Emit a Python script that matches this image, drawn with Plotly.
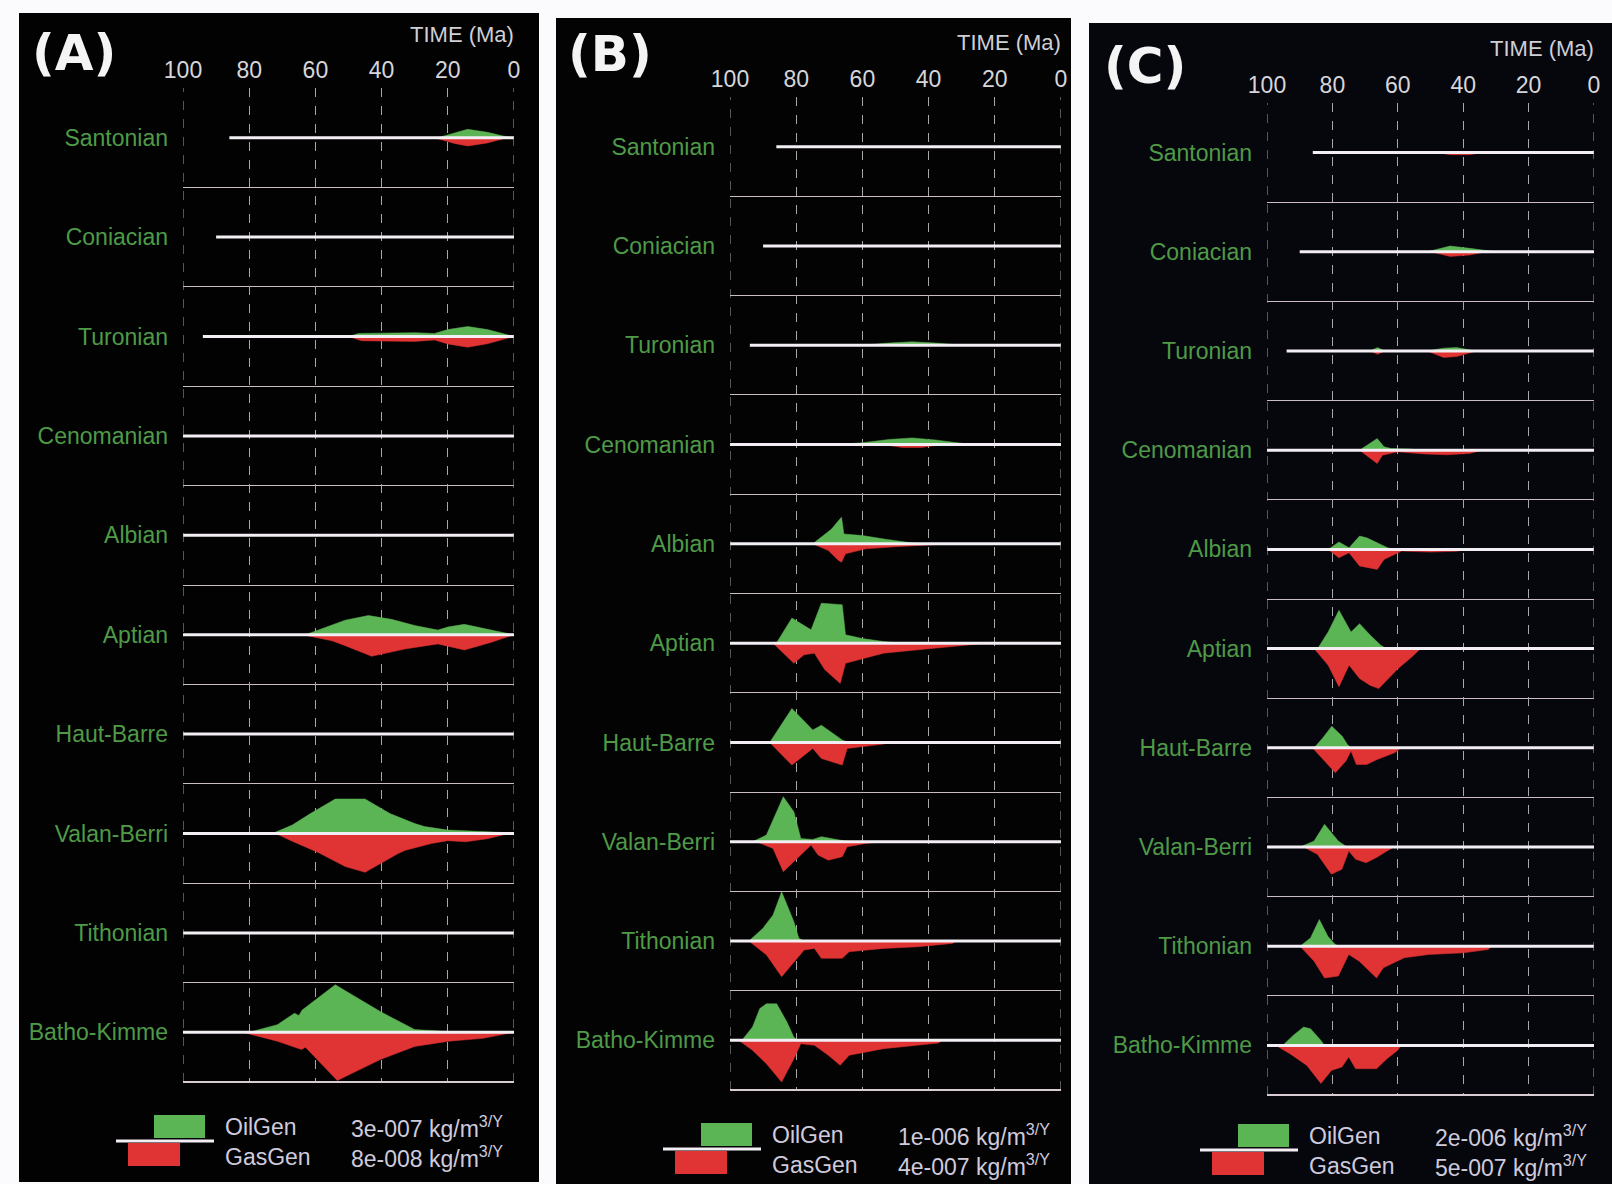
import plotly.graph_objects as go

# ---------------------------------------------------------------------------
# Source-rock layers (top to bottom) and time axis
# ---------------------------------------------------------------------------
LAYERS = ["Santonian", "Coniacian", "Turonian", "Cenomanian", "Albian", "Aptian",
          "Haut-Barre", "Valan-Berri", "Tithonian", "Batho-Kimme"]
LAYER_AGE_MA = [86, 90, 94, 100.5, 113, 125, 133, 145, 152, 168]
TIME_TICKS = [100, 80, 60, 40, 20, 0]

PANEL_NAMES = ["(A)", "(B)", "(C)"]

# legend reference rates (kg/m3/y) for each panel
OIL_REF = [3e-7, 1e-6, 2e-6]
GAS_REF = [8e-8, 4e-7, 5e-7]
# units in which the rate series below are written
OIL_UNIT = [1e-7, 1e-6, 1e-6]
GAS_UNIT = [1e-8, 1e-7, 1e-7]

# ---------------------------------------------------------------------------
# Generation rates: layer -> (time Ma, rate in panel unit)
# ---------------------------------------------------------------------------
OIL_A = {
    "Santonian": ([23, 18, 14, 8, 3, 0], [0, 0.6, 1.1, 0.7, 0.2, 0]),
    "Turonian": ([50, 47, 30, 24, 20, 14, 8, 2, 0], [0, 0.4, 0.5, 0.4, 0.9, 1.3, 0.9, 0.3, 0]),
    "Aptian": ([63, 57, 51, 44, 37, 30, 23, 20, 15, 9, 0],
               [0, 0.9, 1.9, 2.5, 2.0, 1.2, 0.6, 1.0, 1.35, 0.8, 0]),
    "Valan-Berri": ([73, 70, 67, 61.5, 54, 45, 37.5, 30, 27, 20, 10, 4, 0],
                    [0, 0.6, 1.1, 2.6, 4.5, 4.5, 2.6, 1.3, 0.9, 0.45, 0.3, 0.15, 0]),
    "Batho-Kimme": ([80, 71.5, 66.3, 65, 64, 54, 40.4, 30, 20, 10, 0],
                    [0, 1.0, 2.5, 2.2, 2.9, 6.2, 2.7, 0.35, 0.1, 0.05, 0]),
}
GAS_A = {
    "Santonian": ([24, 18, 14, 8, 3, 0], [0, 2.0, 2.9, 1.8, 0.3, 0]),
    "Turonian": ([50, 46, 30, 24, 20, 14, 8, 3, 0], [0, 1.5, 1.7, 1.2, 2.6, 3.7, 2.5, 0.8, 0]),
    "Aptian": ([64, 55, 51, 43, 33, 23, 15, 7, 0], [0, 2.1, 3.8, 7.5, 5.0, 3.2, 5.3, 2.7, 0]),
    "Valan-Berri": ([72, 67, 59, 51, 45, 40.5, 35, 33, 25, 20, 14.6, 8, 3, 0],
                    [0, 2.7, 6.7, 11.5, 13.5, 10.5, 7.0, 5.9, 3.5, 2.5, 2.9, 1.8, 0.4, 0]),
    "Batho-Kimme": ([82, 71.5, 64.2, 63, 53.4, 40.4, 30, 19.7, 9.3, 0],
                    [0, 3.1, 6.0, 5.2, 16.8, 9.5, 4.9, 3.1, 2.1, 0]),
}

OIL_B = {
    "Turonian": ([60, 52, 45, 38, 30], [0, 0.1, 0.15, 0.1, 0]),
    "Cenomanian": ([67, 60, 52, 45, 38, 30, 27], [0, 0.08, 0.22, 0.29, 0.2, 0.05, 0]),
    "Albian": ([75, 72.4, 69.3, 67.2, 66.3, 65.6, 60, 53, 47, 43],
               [0, 0.29, 0.65, 1.01, 1.16, 0.43, 0.36, 0.2, 0.07, 0]),
    "Aptian": ([86, 81.3, 75.5, 72.4, 66.1, 65.1, 60, 53.6, 48.4],
               [0, 1.09, 0.58, 1.74, 1.67, 0.36, 0.2, 0.07, 0]),
    "Haut-Barre": ([88, 81.3, 75, 72.4, 66, 64], [0, 1.48, 0.54, 0.75, 0.1, 0]),
    "Valan-Berri": ([93.2, 89, 83.9, 80.7, 78.6, 75, 72.4, 66, 64],
                    [0, 0.29, 1.96, 1.30, 0.14, 0.1, 0.22, 0.07, 0]),
    "Tithonian": ([94.3, 90.1, 87, 84.4, 80.7, 79.2, 77.6], [0, 0.55, 1.13, 2.14, 0.84, 0.12, 0]),
    "Batho-Kimme": ([96.4, 93.2, 91, 89, 85.9, 82.8, 80.7, 79.7],
                    [0, 0.58, 1.38, 1.59, 1.59, 0.8, 0.14, 0]),
}
GAS_B = {
    "Turonian": ([55, 45, 35], [0, 0.1, 0]),
    "Cenomanian": ([54, 48, 42, 36], [0, 0.5, 0.5, 0]),
    "Albian": ([75, 70.3, 67.2, 66.3, 65.1, 59, 50, 40, 33], [0, 1.16, 2.9, 3.2, 1.74, 0.87, 0.5, 0.25, 0]),
    "Aptian": ([87, 80.7, 77.6, 74.5, 71.4, 66.7, 65.1, 53.6, 43.2, 27.6, 22.4],
               [0, 3.5, 2.0, 1.74, 4.6, 7.0, 3.5, 1.74, 1.16, 0.3, 0]),
    "Haut-Barre": ([88, 81.3, 75, 72.4, 66.1, 64.6, 53.6, 51.5], [0, 3.94, 1.04, 2.78, 3.94, 1.04, 0.29, 0]),
    "Valan-Berri": ([92, 87, 83.9, 80.7, 75.5, 73.4, 70.3, 66.1, 64.6, 58.9, 53.6],
                    [0, 1.16, 5.2, 3.5, 0.58, 2.3, 3.2, 2.6, 0.87, 0.29, 0]),
    "Tithonian": ([94.3, 89, 84.4, 77.6, 74.5, 72.4, 66.1, 64, 53.6, 43.2, 32.8, 31.7],
                  [0, 2.4, 6.2, 1.57, 1.28, 3.0, 3.0, 1.86, 1.28, 0.99, 0.41, 0]),
    "Batho-Kimme": ([97.4, 93.2, 89, 84.4, 80.7, 78.6, 74.5, 70.3, 66.7, 64, 53.6, 43.2, 37, 36],
                    [0, 1.74, 4.06, 7.25, 3.19, 0.58, 0.87, 2.6, 4.35, 2.6, 1.45, 0.87, 0.46, 0]),
}

OIL_C = {
    "Santonian": ([48, 42, 36], [0, 0.06, 0]),
    "Coniacian": ([51, 47, 44, 38, 30], [0, 0.3, 0.5, 0.3, 0]),
    "Turonian": ([68.5, 66.2, 64, 51, 46, 42, 36], [0, 0.3, 0, 0, 0.25, 0.3, 0]),
    "Cenomanian": ([71.7, 66.3, 64.2, 62, 56, 54], [0, 1.01, 0.29, 0.14, 0.1, 0]),
    "Albian": ([81.3, 78, 74.9, 71.7, 69.5, 65.2, 63.1, 60.6], [0, 0.64, 0.14, 1.16, 1.01, 0.43, 0.14, 0]),
    "Aptian": ([84.5, 81.3, 78, 74.3, 71.7, 68.4, 65.2, 63.6], [0, 1.45, 3.33, 1.45, 2.17, 1.16, 0.29, 0]),
    "Haut-Barre": ([85.6, 82.9, 80.2, 77, 75.4, 74.3], [0, 0.87, 1.88, 1.01, 0.29, 0]),
    "Valan-Berri": ([89.9, 85.6, 82.4, 78.2, 76, 75], [0, 0.52, 1.97, 0.52, 0.09, 0]),
    "Tithonian": ([89.9, 86.7, 84, 81.4, 79.3, 78.2], [0, 0.72, 2.32, 0.87, 0.2, 0]),
    "Batho-Kimme": ([95.2, 92, 88.8, 86.7, 83.5, 82.4], [0, 0.87, 1.59, 1.45, 0.43, 0]),
}
GAS_C = {
    "Santonian": ([48, 44, 38, 34], [0, 0.45, 0.45, 0]),
    "Coniacian": ([50, 44, 38, 33], [0, 1.0, 0.7, 0]),
    "Turonian": ([68.5, 66.2, 64, 51, 46, 42, 36], [0, 0.7, 0, 0, 1.4, 1.2, 0]),
    "Cenomanian": ([71.7, 66.3, 64.7, 60, 52, 45, 38, 34], [0, 2.9, 1.09, 0.36, 0.8, 1.0, 0.7, 0]),
    "Albian": ([81.3, 78, 74.9, 71.7, 66.3, 64.2, 58.8, 50, 42, 38.5],
               [0, 1.81, 0.72, 3.6, 4.35, 2.17, 0.36, 0.58, 0.4, 0]),
    "Aptian": ([85.6, 81.3, 78, 74.9, 71.7, 68.4, 65.8, 60, 56, 53],
               [0, 3.6, 8.3, 3.6, 6.5, 8.0, 8.7, 4.4, 2.0, 0]),
    "Haut-Barre": ([86.1, 82.4, 79.1, 75.9, 74.3, 72.7, 69.5, 66.3, 61, 59],
                   [0, 2.9, 5.43, 2.9, 0.72, 3.62, 3.62, 2.54, 1.09, 0]),
    "Valan-Berri": ([88.8, 84.6, 80.3, 77.1, 75, 72.9, 69.7, 66.5, 63.3, 61.2],
                    [0, 1.6, 5.9, 4.86, 0.87, 2.68, 3.4, 2.3, 0.87, 0]),
    "Tithonian": ([89.9, 85.6, 82.4, 78.2, 75, 71.8, 66.5, 64.4, 58, 50.5, 39.9, 32.4, 31.3],
                  [0, 3.26, 6.9, 6.5, 1.8, 3.26, 6.9, 4.7, 2.5, 1.8, 1.45, 0.72, 0]),
    "Batho-Kimme": ([97.3, 93, 87.8, 83.5, 80.3, 77.1, 75, 72.9, 66.5, 63.3, 60.1, 59],
                    [0, 1.8, 4.35, 8.3, 5.43, 4.7, 2.5, 5.07, 5.07, 2.9, 1.09, 0]),
}

OIL_DATA = [OIL_A, OIL_B, OIL_C]
GAS_DATA = [GAS_A, GAS_B, GAS_C]

# ---------------------------------------------------------------------------
# Page geometry (pixels)
# ---------------------------------------------------------------------------
W, H = 1612, 1184
# plot area of each panel: (left, right, top, bottom)
PLOT_BOX = [(183, 514, 88, 1082), (730, 1061, 97, 1090), (1267, 1594, 103, 1095)]
# black card behind each panel: (left, right, top, bottom)
CARD_BOX = [(19, 539, 13, 1182), (556, 1071, 18, 1184), (1089, 1612, 23, 1184)]
CARD_COLOR = ["#020202", "#030304", "#06060d"]
LETTER_POS = [(30, 53), (566, 54), (1102, 66)]
LEGEND_GAP = [33, 33, 29]  # gap between plot bottom and legend swatch top
SWATCH_PX = 23  # legend swatch height = reference rate

OIL_COLOR = "#5cb555"
GAS_COLOR = "#e03333"
LABEL_GREEN = "#4f9a46"
FONT = "Liberation Sans"


def px(x):
    return x / W


def py(y):
    return 1 - y / H


def rate_label(v):
    mant, exp = f"{v:.0e}".split("e")
    return f"{mant}e-{abs(int(exp)):03d} kg/m<sup>3/Y</sup>"


fig = go.Figure()
shapes, annotations = [], []

for p in range(3):
    xa, ya = f"x{p + 1}", f"y{p + 1}"
    left, right, top, bottom = PLOT_BOX[p]
    row_px = (bottom - top) / len(LAYERS)
    box = SWATCH_PX / row_px  # swatch height in row units

    # black card
    cl, cr, ct, cb = CARD_BOX[p]
    shapes.append(dict(type="rect", xref="paper", yref="paper", x0=px(cl), x1=px(cr),
                       y0=py(cb), y1=py(ct), fillcolor=CARD_COLOR[p], line=dict(width=0),
                       layer="below"))

    for i, layer in enumerate(LAYERS):
        base = i + 0.5
        if layer in OIL_DATA[p]:
            t, v = OIL_DATA[p][layer]
            k = OIL_UNIT[p] / OIL_REF[p] * box
            fig.add_trace(go.Scatter(x=t, y=[base - val * k for val in v], mode="lines",
                                     fill="toself", fillcolor=OIL_COLOR,
                                     line=dict(color=OIL_COLOR, width=0.5),
                                     xaxis=xa, yaxis=ya, showlegend=False, hoverinfo="skip"))
        if layer in GAS_DATA[p]:
            t, v = GAS_DATA[p][layer]
            k = GAS_UNIT[p] / GAS_REF[p] * box
            fig.add_trace(go.Scatter(x=t, y=[base + val * k for val in v], mode="lines",
                                     fill="toself", fillcolor=GAS_COLOR,
                                     line=dict(color=GAS_COLOR, width=0.5),
                                     xaxis=xa, yaxis=ya, showlegend=False, hoverinfo="skip"))
        # layer time line, from deposition to present
        fig.add_trace(go.Scatter(x=[LAYER_AGE_MA[i], 0], y=[base, base], mode="lines",
                                 line=dict(color="#f2eef4", width=3),
                                 xaxis=xa, yaxis=ya, showlegend=False, hoverinfo="skip"))

    fig.layout[f"xaxis{p + 1}"] = dict(
        domain=[px(left), px(right)], range=[100, 0], side="top", anchor=ya, automargin=False,
        tickmode="array", tickvals=TIME_TICKS, ticks="",
        tickfont=dict(family=FONT, size=23, color="#d6d6da"), ticklabelstandoff=4,
        showgrid=True, gridcolor="#a8a8a8", griddash="dash", gridwidth=1,
        zeroline=False, showline=False, fixedrange=True)
    fig.layout[f"yaxis{p + 1}"] = dict(
        domain=[py(bottom), py(top)], range=[len(LAYERS), 0], anchor=xa, automargin=False,
        tickmode="array", tickvals=[i + 0.5 for i in range(len(LAYERS))], ticktext=LAYERS,
        ticks="", tickfont=dict(family=FONT, size=23, color=LABEL_GREEN), ticklabelstandoff=14,
        showgrid=False, zeroline=False, showline=False, fixedrange=True,
        minor=dict(tickmode="array", tickvals=list(range(len(LAYERS) + 1)), showgrid=True,
                   gridcolor="#cbbcc6", gridwidth=1.2, ticks=""))

    # edge dashes at 100 and 0 Ma
    for edge in (100, 0):
        shapes.append(dict(type="line", xref=xa, yref="paper", x0=edge, x1=edge,
                           y0=py(bottom), y1=py(top), line=dict(color="#a8a8a8", width=1, dash="dash")))
    shapes.append(dict(type="line", xref="paper", yref="paper", x0=px(left), x1=px(right),
                       y0=py(bottom), y1=py(bottom), line=dict(color="#d8cbd2", width=2)))

    # panel letter and axis title
    lx, ly = LETTER_POS[p]
    annotations.append(dict(text=f"<b>{PANEL_NAMES[p]}</b>", xref="paper", yref="paper",
                            x=px(lx), y=py(ly), xanchor="left", yanchor="middle", showarrow=False,
                            font=dict(family="DejaVu Sans", size=50, color="#f4f4f4")))
    annotations.append(dict(text="TIME (Ma)", xref="paper", yref="paper", x=px(right + 2),
                            y=py(top - 54), xanchor="right", yanchor="middle", showarrow=False,
                            font=dict(family=FONT, size=22, color="#cfcfd6")))

    # legend: swatches around a white base line
    lg = bottom + LEGEND_GAP[p]
    shapes.append(dict(type="rect", xref="paper", yref="paper", x0=px(left - 29), x1=px(left + 22),
                       y0=py(lg + SWATCH_PX), y1=py(lg), fillcolor=OIL_COLOR, line=dict(width=0)))
    shapes.append(dict(type="rect", xref="paper", yref="paper", x0=px(left - 55), x1=px(left - 3),
                       y0=py(lg + 28 + SWATCH_PX), y1=py(lg + 28), fillcolor=GAS_COLOR,
                       line=dict(width=0)))
    shapes.append(dict(type="line", xref="paper", yref="paper", x0=px(left - 67), x1=px(left + 31),
                       y0=py(lg + 26), y1=py(lg + 26), line=dict(color="#f2eef4", width=3)))
    for text, dy in (("OilGen", 12), ("GasGen", 42)):
        annotations.append(dict(text=text, xref="paper", yref="paper", x=px(left + 40),
                                y=py(lg + dy), xanchor="left", yanchor="middle", showarrow=False,
                                font=dict(family=FONT, size=23, color="#cfcbdc")))
    for ref, dy in ((OIL_REF[p], 12), (GAS_REF[p], 42)):
        annotations.append(dict(text=rate_label(ref), xref="paper", yref="paper", x=px(left + 166),
                                y=py(lg + dy), xanchor="left", yanchor="middle", showarrow=False,
                                font=dict(family=FONT, size=23, color="#cfcbdc")))

fig.update_layout(width=W, height=H, margin=dict(l=0, r=0, t=0, b=0, autoexpand=False),
                  paper_bgcolor="#fbfbfd", plot_bgcolor="rgba(0,0,0,0)",
                  shapes=shapes, annotations=annotations, showlegend=False)

fig.write_html("out.html")
